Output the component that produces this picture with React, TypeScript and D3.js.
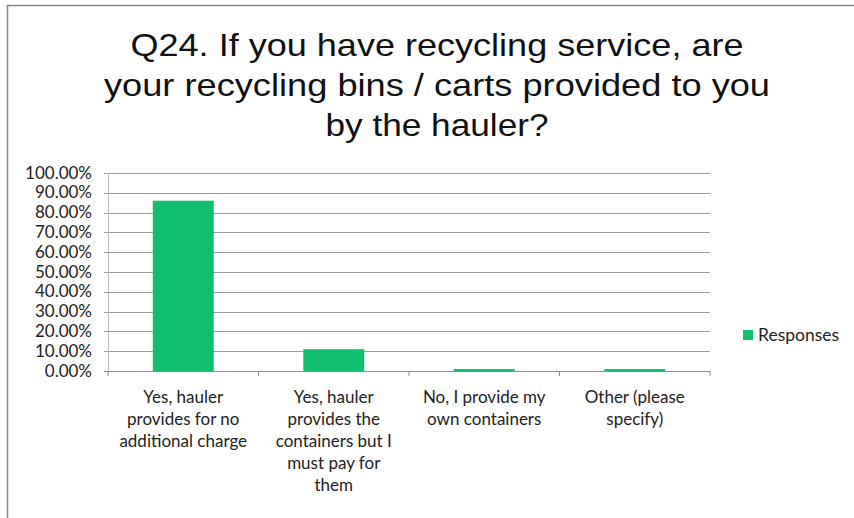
import React from "react";
import * as d3 from "d3";

const titleLines = [
  "Q24. If you have recycling service, are",
  "your recycling bins / carts provided to you",
  "by the hauler?",
];
const titleWidths = [613, 666, 223];
const categories = [
  ["Yes, hauler", "provides for no", "additional charge"],
  ["Yes, hauler", "provides the", "containers but I", "must pay for", "them"],
  ["No, I provide my", "own containers"],
  ["Other (please", "specify)"],
];
const values = [0.86, 0.11, 0.01, 0.01];
const yTicks = [0, 0.1, 0.2, 0.3, 0.4, 0.5, 0.6, 0.7, 0.8, 0.9, 1.0];
const seriesName = "Responses";

const W = 854;
const H = 518;
const left = 108;
const right = 710;
const top = 173;
const bottom = 371;
const barColor = "#10c06e";
const labelFont = "Lato, 'Open Sans', sans-serif";

export default function App() {
  const x = d3
    .scaleBand<number>()
    .domain(categories.map((_, i) => i))
    .range([left, right])
    .paddingInner(0.595)
    .paddingOuter(0.2975);
  const y = d3.scaleLinear().domain([0, 1]).range([bottom, top]);
  const step = (right - left) / categories.length;
  const fmt = d3.format(".2%");

  return (
    <svg
      width={W}
      height={H}
      style={{ position: "absolute", left: 0, top: 0, background: "#fff" }}
    >
      <rect x={0} y={0} width={W} height={H} fill="#fff" />
      <line x1={7} y1={5.5} x2={W} y2={5.5} stroke="#8a8a8a" strokeWidth={1.5} />
      <line x1={7.5} y1={5} x2={7.5} y2={H} stroke="#8a8a8a" strokeWidth={1.5} />

      {titleLines.map((t, i) => (
        <text
          key={i}
          x={437}
          y={56 + i * 40}
          textAnchor="middle"
          fontFamily="'Liberation Sans', Arial, sans-serif"
          fontSize={32}
          textLength={titleWidths[i]}
          lengthAdjust="spacingAndGlyphs"
          fill="#111"
        >
          {t}
        </text>
      ))}

      {yTicks.map((t) => (
        <g key={t}>
          <line
            x1={left - 4}
            x2={right}
            y1={Math.round(y(t)) + 0.5}
            y2={Math.round(y(t)) + 0.5}
            stroke={t === 0 ? "#8c8c8c" : "#9a9a9a"}
            strokeWidth={1}
          />
          <text
            x={92}
            y={y(t) + 5.5}
            textAnchor="end"
            fontFamily={labelFont}
            fontSize={17}
            fill="#222"
          >
            {fmt(t)}
          </text>
        </g>
      ))}
      <line x1={left + 0.5} x2={left + 0.5} y1={top} y2={bottom} stroke="#bbb" />

      {d3.range(categories.length + 1).map((i) => (
        <line
          key={i}
          x1={left + i * step}
          x2={left + i * step}
          y1={bottom}
          y2={bottom + 5}
          stroke="#8c8c8c"
        />
      ))}

      {values.map((v, i) => (
        <rect
          key={i}
          x={x(i)!}
          y={y(v)}
          width={x.bandwidth()}
          height={bottom - y(v)}
          fill={barColor}
        />
      ))}

      {categories.map((lines, i) => (
        <text
          key={i}
          textAnchor="middle"
          fontFamily={labelFont}
          fontSize={17}
          fill="#222"
        >
          {lines.map((l, j) => (
            <tspan key={j} x={x(i)! + x.bandwidth() / 2} y={403 + j * 22}>
              {l}
            </tspan>
          ))}
        </text>
      ))}

      <rect x={743} y={330} width={10} height={10} fill={barColor} />
      <text x={758} y={341} fontFamily={labelFont} fontSize={17.5} fill="#222">
        {seriesName}
      </text>
    </svg>
  );
}
